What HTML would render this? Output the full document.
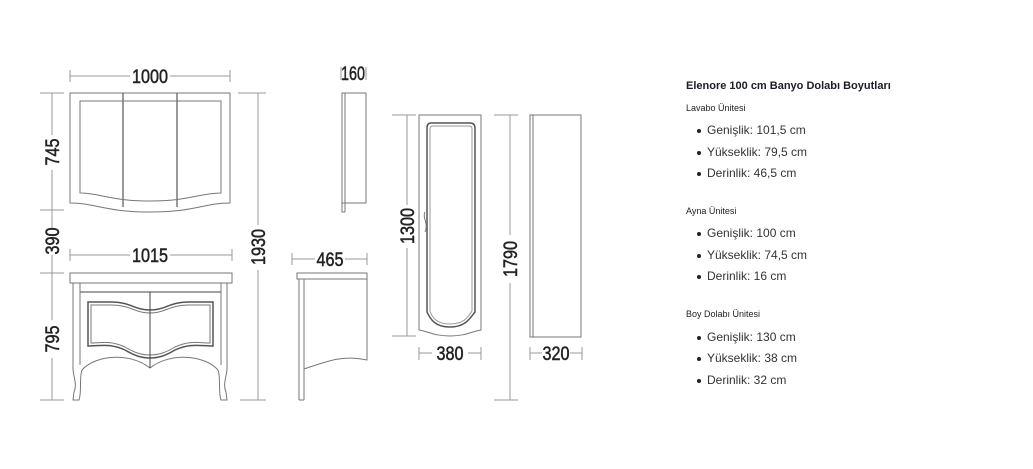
<!DOCTYPE html>
<html><head><meta charset="utf-8"><style>
body{margin:0;background:#fff;width:1033px;height:469px;overflow:hidden;position:relative;font-family:"Liberation Sans",sans-serif}
svg{position:absolute;left:0;top:0}
.t{position:absolute;color:#222;white-space:nowrap}
.h{left:686px;font-size:11px;font-weight:bold;color:#1c1c2a}
.s{left:686px;font-size:9px;color:#222}
.li{left:697px;font-size:12px;color:#333}
.li::before{content:"";position:absolute;left:0;top:6px;width:4px;height:4px;border-radius:50%;background:#222}
.li span{margin-left:10px}
</style></head><body>
<svg width="1033" height="469" viewBox="0 0 1033 469">
<g fill="none" stroke="#777" stroke-width="1">
<g stroke="#999">
<line x1="70" y1="76" x2="130" y2="76"/><line x1="170" y1="76" x2="230" y2="76"/>
<line x1="70" y1="70" x2="70" y2="82"/><line x1="230" y1="70" x2="230" y2="82"/>
<line x1="70" y1="255" x2="130" y2="255"/><line x1="170" y1="255" x2="232" y2="255"/>
<line x1="70" y1="249" x2="70" y2="261"/><line x1="232" y1="249" x2="232" y2="261"/>
<line x1="52" y1="93" x2="52" y2="135"/><line x1="52" y1="170" x2="52" y2="228"/><line x1="52" y1="255" x2="52" y2="320"/><line x1="52" y1="358" x2="52" y2="400"/>
<line x1="40" y1="93" x2="64" y2="93"/><line x1="40" y1="210" x2="64" y2="210"/><line x1="40" y1="273" x2="64" y2="273"/><line x1="40" y1="400" x2="64" y2="400"/>
<line x1="258" y1="93" x2="258" y2="225"/><line x1="258" y1="270" x2="258" y2="400"/>
<line x1="238" y1="93" x2="266" y2="93"/><line x1="240" y1="400" x2="266" y2="400"/>
<line x1="341" y1="67" x2="341" y2="80"/><line x1="366" y1="67" x2="366" y2="80"/>
<line x1="292" y1="259" x2="315" y2="259"/><line x1="345" y1="259" x2="367" y2="259"/>
<line x1="292" y1="253" x2="292" y2="265"/><line x1="367" y1="253" x2="367" y2="265"/>
<line x1="407" y1="115" x2="407" y2="205"/><line x1="407" y1="248" x2="407" y2="336"/>
<line x1="392" y1="115" x2="416" y2="115"/><line x1="392" y1="336" x2="416" y2="336"/>
<line x1="419" y1="353" x2="432" y2="353"/><line x1="468" y1="353" x2="481" y2="353"/>
<line x1="419" y1="347" x2="419" y2="360"/><line x1="481" y1="347" x2="481" y2="360"/>
<line x1="510" y1="115" x2="510" y2="235"/><line x1="510" y1="283" x2="510" y2="400"/>
<line x1="494" y1="115" x2="518" y2="115"/><line x1="494" y1="400" x2="518" y2="400"/>
<line x1="530" y1="353" x2="542" y2="353"/><line x1="570" y1="353" x2="582" y2="353"/>
<line x1="530" y1="347" x2="530" y2="360"/><line x1="582" y1="347" x2="582" y2="360"/>
</g>
<path d="M70 93 H230 V203 C205 203 195 212 150 212 C105 212 95 203 70 203 Z"/>
<path d="M80 101 H221 V193 C200 193 190 201 150 201 C110 201 100 193 80 193 Z"/>
<line x1="123" y1="93" x2="123" y2="207" stroke-width="1.5"/><line x1="177" y1="93" x2="177" y2="207" stroke-width="1.5"/>
<rect x="342" y="93" width="24" height="110"/><line x1="345" y1="93" x2="345" y2="212"/><path d="M342 203 V212 H345"/>
<rect x="70" y="273" width="162" height="10"/>
<line x1="80" y1="292" x2="221" y2="292" stroke="#444"/>
<path d="M73 283 V365 C72 375 78 383 74 392 L73 400 H79 C82 392 79 378 82 370 C95 355 130 352 150 368 C170 352 205 355 218 370 C221 378 218 392 221 400 H227 L226 392 C222 383 228 375 227 365 V283"/>
<line x1="80" y1="283" x2="80" y2="365"/><line x1="221" y1="283" x2="221" y2="365"/>
<path d="M88 302 H112 C130 302 135 310 150 310 C165 310 170 302 188 302 H213 V346 C200 346 190 343 175 350 C165 356 158 358 150 358 C142 358 135 356 125 350 C110 343 100 346 88 346 Z" stroke="#555" stroke-width="1.5"/>
<path d="M91 305 H112 C130 305 135 313 150 313 C165 313 170 305 188 305 H210 V343 C200 343 190 340 175 347 C165 353 158 355 150 355 C142 355 135 353 125 347 C110 340 100 343 91 343 Z" stroke="#777"/>
<line x1="150" y1="292" x2="150" y2="368" stroke="#444"/>
<path d="M297 279 V273 H367 V279 Z"/><line x1="299" y1="279" x2="299" y2="400"/><line x1="304" y1="279" x2="304" y2="400"/><line x1="299" y1="400" x2="304" y2="400"/>
<path d="M367 279 V360 C345 355 330 360 304 369"/>
<path d="M419 115 H481 V330 C470 332 465 336 450 336 C435 336 430 332 419 330 Z"/>
<path d="M431 123 H470 Q475 123 475 128 V312 C470 318 466 327 450 327 C434 327 430 318 427 312 V128 Q427 123 431 123 Z" stroke="#555" stroke-width="1.5"/>
<path d="M433 126 H469 Q472 126 472 129 V311 C468 317 464 324 450 324 C436 324 432 317 430 311 V129 Q430 126 433 126 Z" stroke="#999"/>
<path d="M425 212 C422 218 429 224 425 232"/>
<rect x="530" y="115" width="51" height="222"/><line x1="533" y1="115" x2="533" y2="337"/>
</g>
<g font-family="Liberation Sans,sans-serif" font-size="19" fill="#222" stroke="#222" stroke-width="0.5" text-anchor="middle">
<text x="150" y="83" textLength="36" lengthAdjust="spacingAndGlyphs">1000</text>
<text x="150" y="262" textLength="36" lengthAdjust="spacingAndGlyphs">1015</text>
<text x="353" y="80" textLength="24" lengthAdjust="spacingAndGlyphs">160</text>
<text x="330" y="266" textLength="27" lengthAdjust="spacingAndGlyphs">465</text>
<text x="450" y="360" textLength="27" lengthAdjust="spacingAndGlyphs">380</text>
<text x="556" y="360" textLength="27" lengthAdjust="spacingAndGlyphs">320</text>
<text transform="translate(59,152) rotate(-90)" textLength="27" lengthAdjust="spacingAndGlyphs">745</text>
<text transform="translate(59,241) rotate(-90)" textLength="27" lengthAdjust="spacingAndGlyphs">390</text>
<text transform="translate(59,339) rotate(-90)" textLength="27" lengthAdjust="spacingAndGlyphs">795</text>
<text transform="translate(265,247) rotate(-90)" textLength="36" lengthAdjust="spacingAndGlyphs">1930</text>
<text transform="translate(414,226) rotate(-90)" textLength="36" lengthAdjust="spacingAndGlyphs">1300</text>
<text transform="translate(517,259) rotate(-90)" textLength="36" lengthAdjust="spacingAndGlyphs">1790</text>
</g>
</svg>
<div class="t h" style="top:80px">Elenore 100 cm Banyo Dolabı Boyutları</div>
<div class="t s" style="top:103px">Lavabo Ünitesi</div>
<div class="t li" style="top:123px"><span>Genişlik: 101,5 cm</span></div>
<div class="t li" style="top:145px"><span>Yükseklik: 79,5 cm</span></div>
<div class="t li" style="top:166px"><span>Derinlik: 46,5 cm</span></div>
<div class="t s" style="top:206px">Ayna Ünitesi</div>
<div class="t li" style="top:226px"><span>Genişlik: 100 cm</span></div>
<div class="t li" style="top:248px"><span>Yükseklik: 74,5 cm</span></div>
<div class="t li" style="top:269px"><span>Derinlik: 16 cm</span></div>
<div class="t s" style="top:309px">Boy Dolabı Ünitesi</div>
<div class="t li" style="top:330px"><span>Genişlik: 130 cm</span></div>
<div class="t li" style="top:351px"><span>Yükseklik: 38 cm</span></div>
<div class="t li" style="top:373px"><span>Derinlik: 32 cm</span></div>
</body></html>
